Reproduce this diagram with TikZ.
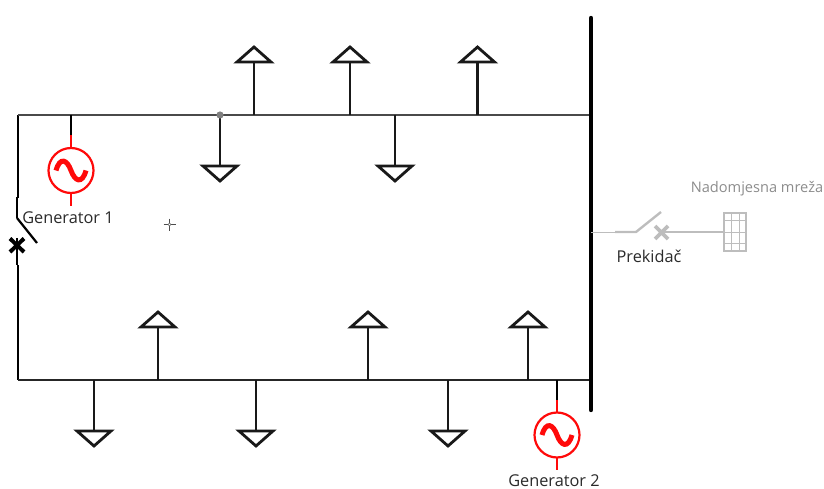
\documentclass[tikz,border=0pt]{standalone}
\usepackage{fontspec}
\setmainfont{Open Sans}
\definecolor{wire}{HTML}{4A4A4A}
\definecolor{soft}{HTML}{BDBDBD}
\definecolor{softtext}{HTML}{8C8C8C}
\definecolor{lbl}{HTML}{2A2A2A}
\definecolor{genred}{HTML}{FF0A0A}
\tikzset{
  feeder/.style={draw=wire,line width=1.8pt},
  stem/.style={draw=black!90,line width=2.8pt},
  thin wire/.style={draw=black,line width=1.4pt},
  tri/.style={draw=black!90,line width=2.8pt,line join=miter,fill=white},
  genline/.style={draw=genred,line width=2.2pt},
  softline/.style={draw=soft,line width=1.4pt},
  softthick/.style={draw=soft,line width=2.4pt},
  txt/.style={font=\fontsize{16.3pt}{18pt}\selectfont,text=lbl,inner sep=0pt},
  pics/loadup/.style={code={
    \draw[stem] (0,0) -- (0,-53);
    \draw[tri] (-17,-53) -- (0,-68) -- (17,-53) -- cycle;
  }},
  pics/loaddown/.style={code={
    \draw[stem] (0,0) -- (0,51);
    \draw[tri] (-17,51) -- (0,66) -- (17,51) -- cycle;
  }},
  pics/gen/.style={code={
    \draw[genline] (0,-35) -- (0,-22);
    \draw[genline] (0,22) -- (0,35);
    \draw[genline] (0,0) circle (22.5);
    \draw[draw=genred,line width=5pt] (-15,0) .. controls (-11,-14) and (-4,-11) .. (0,0) .. controls (4,11) and (11,14) .. (15,0);
  }}
}
\begin{document}
\begin{tikzpicture}[x=1pt,y=-1pt]
\useasboundingbox (0,0) rectangle (824,489);
% corners and junctions
\coordinate (tl) at (18,115);
\coordinate (bl) at (18,380);
\coordinate (tr) at (591,115);
\coordinate (br) at (591,380);
\coordinate (bustop) at (591,18);
\coordinate (busbot) at (591,410);
\coordinate (swtop) at (18,198);
\coordinate (swbot) at (18,265);
\coordinate (dot) at (220,115);
% feeders
\draw[thin wire] (swbot) -- (bl);
\draw[thin wire] (tl) -- (swtop);
\draw[feeder] (tl) -- (tr);
\draw[thin wire,draw=black!85] (bl) -- (br);
% loads, top
\path (dot) pic {loaddown};
\fill[gray] (dot) circle (3.6);
\path (254,115) pic {loadup};
\path (350,115) pic {loadup};
\path (395,115) pic {loaddown};
\path (477.5,115) pic {loadup};
% loads, bottom
\path (158,380) pic {loadup};
\path (368,380) pic {loadup};
\path (528,380) pic {loadup};
\path (94,380) pic {loaddown};
\path (256,380) pic {loaddown};
\path (448,380) pic {loaddown};
% generators
\coordinate (g1t) at (71,115);
\coordinate (g1) at (71,170.5);
\draw[thin wire] (g1t) -- (71,136);
\path (g1) pic {gen};
\node[txt,anchor=center] (g1l) at (68,218) {Generator 1};
\coordinate (g2t) at (557,380);
\coordinate (g2) at (557,435);
\draw[thin wire] (g2t) -- (557,400);
\path (g2) pic {gen};
\node[txt,anchor=center] (g2l) at (554,480.5) {Generator 2};
% main bus
\draw[line width=4.4pt,draw=black,line cap=round] (bustop) -- (busbot);
% left switch
\draw[line width=2.8pt,draw=black] (17,197) -- (17,218);
\draw[line width=2.2pt,draw=black] (17,218) -- (37,243);
\draw[line width=2.8pt,draw=black] (17,238) -- (17,265);
\draw[line width=4pt,draw=black] (10,238.5) -- (24,252) (24,238.5) -- (10,252);
% cursor mark
\coordinate (cur) at (169.5,224.5);
\draw[line width=.8pt,draw=black!70] (cur) ++(-6,0) -- ++(4.5,0) ++(3,0) -- ++(4.5,0);
\draw[line width=.8pt,draw=black!70] (cur) ++(0,-6) -- ++(0,4.5) ++(0,3) -- ++(0,4.5);
\draw[line width=.6pt,draw=black!60] (cur) circle (1.5);
% breaker
\coordinate (ba) at (591,232.5);
\coordinate (net) at (724,232);
\draw[softline] (ba) -- (615,232.5);
\draw[softthick] (615,232) -- (636,232) -- (661,212);
\draw[line width=3.6pt,draw=soft] (655,226) -- (668,239) (668,226) -- (655,239);
\draw[softthick] (661,232) -- (684,232);
\draw[softline] (684,232) -- (net);
\node[txt,anchor=center] (pl) at (649,256.5) {Prekidač};
% network
\draw[draw=soft,line width=1.1pt] (724,213) rectangle (746,251);
\draw[draw=soft,line width=1pt] (731,213) -- (731,251) (739,213) -- (739,251);
\draw[draw=soft,line width=1pt] (724,220) -- (746,220) (724,232) -- (746,232) (724,243) -- (746,243);
\node[txt,anchor=center,text=softtext,font=\fontsize{14.6pt}{17pt}\selectfont] (nl) at (757,189) {Nadomjesna mreža};
\end{tikzpicture}
\end{document}
